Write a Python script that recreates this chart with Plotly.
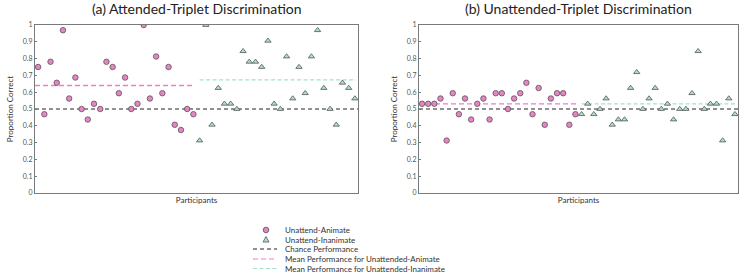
import plotly.graph_objects as go

# ---- data (proportion correct per participant) ----
att_animate = [0.75, 0.469, 0.781, 0.656, 0.969, 0.5625, 0.6875, 0.5, 0.4375, 0.531,
               0.5, 0.781, 0.75, 0.594, 0.6875, 0.5, 0.531, 1.0, 0.5625, 0.8125,
               0.594, 0.75, 0.406, 0.375, 0.5, 0.469]
att_inanimate = [0.3125, 1.0, 0.406, 0.625, 0.531, 0.531, 0.5, 0.844, 0.781, 0.781,
                 0.75, 0.906, 0.531, 0.5, 0.8125, 0.5625, 0.75, 0.594, 0.8125, 0.969,
                 0.625, 0.5, 0.406, 0.656, 0.625, 0.5625]
unatt_animate = [0.531, 0.531, 0.531, 0.5625, 0.3125, 0.594, 0.469, 0.5625, 0.4375, 0.531,
                 0.5625, 0.4375, 0.594, 0.594, 0.5, 0.5625, 0.594, 0.656, 0.469, 0.625,
                 0.406, 0.5625, 0.594, 0.594, 0.406, 0.469]
unatt_inanimate = [0.469, 0.531, 0.469, 0.5, 0.5625, 0.406, 0.4375, 0.4375, 0.625, 0.719,
                   0.5, 0.5625, 0.625, 0.5, 0.531, 0.4375, 0.5, 0.5, 0.594, 0.844,
                   0.5, 0.531, 0.531, 0.3125, 0.5625, 0.469]
mean_animate = [0.64, 0.53]      # panel a, panel b
mean_inanimate = [0.673, 0.53]
chance = 0.5
titles = ["(a) Attended-Triplet Discrimination", "(b) Unattended-Triplet Discrimination"]
legend_labels = ["Unattend-Animate", "Unattend-Inanimate", "Chance Performance",
                 "Mean Performance for Unattended-Animate",
                 "Mean Performance for Unattended-Inanimate"]
y_ticks = [0, 0.1, 0.2, 0.3, 0.4, 0.5, 0.6, 0.7, 0.8, 0.9, 1]
y_ticklabels = ["0", "0.1", "0.2", "0.3", "0.4", "0.5", "0.6", "0.7", "0.8", "0.9", "1"]

PINK = "#e883c4"
PINK_LINE = "#f27ccb"
TEAL = "#ade0cc"
TEAL_LINE = "#9fe3cc"
EDGE = "#555555"
FONT = "Lato"

W, H = 742, 273
ML, MR, MT, MB = 35, 4, 25, 80
PW = W - ML - MR
PH = H - MT - MB

fig = go.Figure()
panels = [(att_animate, att_inanimate), (unatt_animate, unatt_inanimate)]
for p, (an, inan) in enumerate(panels):
    xa = "x" if p == 0 else "x2"
    ya = "y" if p == 0 else "y2"
    na, ni = len(an), len(inan)
    n = na + ni
    xs_a = list(range(1, na + 1))
    xs_i = list(range(na + 1, n + 1))
    # chance line
    fig.add_trace(go.Scatter(x=[0.5, n + 0.5], y=[chance, chance], mode="lines",
                             line=dict(color="#222222", width=1, dash="4px,3px"),
                             xaxis=xa, yaxis=ya, showlegend=False, hoverinfo="skip"))
    fig.add_trace(go.Scatter(x=[0.5, na + 0.2], y=[mean_animate[p]] * 2, mode="lines",
                             line=dict(color=PINK_LINE, width=1.3, dash="5px,3px"),
                             xaxis=xa, yaxis=ya, showlegend=False, hoverinfo="skip"))
    fig.add_trace(go.Scatter(x=[na + 1, n + 0.2], y=[mean_inanimate[p]] * 2, mode="lines",
                             line=dict(color=TEAL_LINE, width=1.3, dash="4px,2.5px"),
                             xaxis=xa, yaxis=ya, showlegend=False, hoverinfo="skip"))
    fig.add_trace(go.Scatter(x=xs_a, y=an, mode="markers",
                             marker=dict(symbol="circle", size=5.5, color=PINK,
                                         line=dict(color=EDGE, width=0.8)),
                             xaxis=xa, yaxis=ya, showlegend=False))
    fig.add_trace(go.Scatter(x=xs_i, y=inan, mode="markers",
                             marker=dict(symbol="triangle-up", size=5.5, color=TEAL,
                                         line=dict(color=EDGE, width=0.8)),
                             xaxis=xa, yaxis=ya, showlegend=False))

left_dom = [0, (358 - ML) / PW]
right_dom = [(419 - ML) / PW, 1]
n_total = len(att_animate) + len(att_inanimate)

common_x = dict(range=[0.5, n_total + 0.5], showticklabels=False, ticks="",
                showgrid=False, zeroline=False, showline=True, mirror=True,
                linecolor="#7a7a7a", linewidth=1,
                title=dict(text="Participants", font=dict(family=FONT, size=8, color="#333333"),
                           standoff=4))
common_y = dict(range=[0, 1], tickvals=y_ticks, ticktext=y_ticklabels,
                showgrid=False, zeroline=False, showline=True, mirror=True,
                linecolor="#7a7a7a", linewidth=1, ticks="inside", ticklen=2,
                tickcolor="#7a7a7a",
                tickfont=dict(family=FONT, size=7, color="#555555"),
                title=dict(text="Proportion Correct", font=dict(family=FONT, size=8, color="#333333"),
                           standoff=8))

fig.update_layout(
    width=W, height=H, margin=dict(l=ML, r=MR, t=MT, b=MB),
    paper_bgcolor="white", plot_bgcolor="white",
    xaxis=dict(domain=left_dom, anchor="y", **common_x),
    yaxis=dict(domain=[0, 1], anchor="x", **common_y),
    xaxis2=dict(domain=right_dom, anchor="y2", **common_x),
    yaxis2=dict(domain=[0, 1], anchor="x2", **common_y),
)

# panel titles
for dom, t in zip([left_dom, right_dom], titles):
    fig.add_annotation(x=(dom[0] + dom[1]) / 2, y=1, xref="paper", yref="paper",
                       yshift=6, text=t, showarrow=False, xanchor="center", yanchor="bottom",
                       font=dict(family=FONT, size=14, color="#222222"))

# manual compact legend
def px_to_paper(px, py):
    return (px - ML) / PW, (H - MB - py) / PH

row_y = [230, 239.5, 249, 259, 268.5]
sym_x = 266
text_x = 283
for i, lab in enumerate(legend_labels):
    tx, ty = px_to_paper(text_x, row_y[i])
    fig.add_annotation(x=tx, y=ty, xref="paper", yref="paper", text=lab, showarrow=False,
                       xanchor="left", yanchor="middle",
                       font=dict(family=FONT, size=8, color="#333333"))
sx, sy = px_to_paper(sym_x, row_y[0])
fig.add_shape(type="circle", xref="paper", yref="paper", xsizemode="pixel", ysizemode="pixel",
              xanchor=sx, yanchor=sy, x0=-2.8, x1=2.8, y0=-2.8, y1=2.8,
              fillcolor=PINK, line=dict(color=EDGE, width=0.8))
sx, sy = px_to_paper(sym_x, row_y[1])
fig.add_shape(type="path", xref="paper", yref="paper", xsizemode="pixel", ysizemode="pixel",
              xanchor=sx, yanchor=sy, path="M -3 -2.5 L 3 -2.5 L 0 3 Z",
              fillcolor=TEAL, line=dict(color=EDGE, width=0.8))
for i, (col, dash) in enumerate([("#222222", "4px,3px"), (PINK_LINE, "5px,3px"),
                                  (TEAL_LINE, "4px,2.5px")]):
    x0, yy = px_to_paper(253, row_y[2 + i])
    x1, _ = px_to_paper(277, row_y[2 + i])
    fig.add_shape(type="line", xref="paper", yref="paper", x0=x0, x1=x1, y0=yy, y1=yy,
                  line=dict(color=col, width=1.1, dash=dash))

fig.write_html("out.html")
